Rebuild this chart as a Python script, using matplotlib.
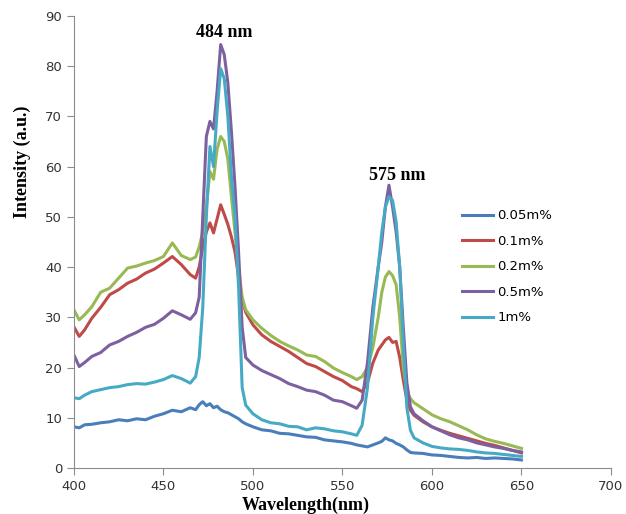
import numpy as np
import matplotlib
matplotlib.use("Agg")
from matplotlib import pyplot as plt

# wavelength grid (nm)
wl = [400, 403, 406, 410, 415, 420, 425, 430, 435, 440,
      445, 450, 455, 460, 465, 468, 470, 472, 474, 476,
      478, 480, 482, 484, 486, 488, 490, 492, 494, 496,
      500, 505, 510, 515, 520, 525, 530, 535, 540, 545,
      550, 555, 558, 561, 564, 567, 570, 572, 574, 576,
      578, 580, 582, 584, 586, 588, 590, 595, 600, 605,
      610, 615, 620, 625, 630, 635, 640, 645, 650]

# intensities (a.u.)
i_005 = [8.2, 8.0, 8.6, 8.7, 9.0, 9.2, 9.6, 9.4, 9.8, 9.6,
         10.3, 10.8, 11.5, 11.2, 12.0, 11.6, 12.6, 13.2, 12.4, 12.8,
         12.0, 12.3, 11.6, 11.2, 11.0, 10.6, 10.2, 9.8, 9.2, 8.8,
         8.2, 7.6, 7.4, 6.9, 6.8, 6.5, 6.2, 6.1, 5.6, 5.4,
         5.2, 4.9, 4.6, 4.4, 4.2, 4.6, 5.0, 5.3, 6.0, 5.6,
         5.4, 4.9, 4.6, 4.2, 3.6, 3.1, 3.0, 2.9, 2.6, 2.5,
         2.3, 2.1, 2.0, 2.1, 1.9, 2.0, 1.9, 1.8, 1.6]

i_01 = [28.1, 26.2, 27.5, 29.8, 32.0, 34.5, 35.5, 36.8, 37.6, 38.8,
        39.6, 40.8, 42.1, 40.5, 38.5, 37.8, 40.0, 44.0, 47.0, 48.8,
        46.8, 49.6, 52.4, 50.5, 48.5, 46.0, 43.0, 38.0, 33.5, 31.0,
        28.5, 26.5, 25.2, 24.2, 23.2, 22.0, 20.8, 20.2, 19.2, 18.2,
        17.4, 16.2, 15.8, 15.2, 17.0, 20.9, 23.5, 24.5, 25.5, 26.0,
        25.0, 25.2, 22.0, 17.5, 13.5, 11.5, 10.5, 9.2, 8.2, 7.5,
        6.9, 6.4, 5.9, 5.4, 4.9, 4.5, 4.0, 3.5, 3.0]

i_02 = [31.5, 29.5, 30.5, 32.1, 35.0, 35.8, 37.8, 39.8, 40.2, 40.8,
        41.3, 42.1, 44.8, 42.3, 41.5, 42.0, 44.0, 47.0, 52.0, 59.0,
        57.5, 63.5, 66.0, 65.0, 61.5, 54.0, 47.0, 40.0, 34.0, 31.5,
        29.5, 27.8, 26.4, 25.2, 24.3, 23.5, 22.5, 22.2, 21.2, 19.9,
        19.0, 18.2, 17.6, 18.2, 20.0, 24.0, 30.0, 35.0, 38.0, 39.1,
        38.3, 36.5, 30.0, 20.0, 15.0, 13.8, 13.0, 11.8, 10.6, 9.8,
        9.2, 8.4, 7.6, 6.6, 5.8, 5.3, 4.9, 4.4, 3.9]

i_05 = [22.5, 20.2, 21.0, 22.2, 23.0, 24.5, 25.2, 26.2, 27.0, 28.0,
        28.6, 29.8, 31.3, 30.5, 29.6, 30.9, 34.0, 50.0, 66.0, 69.0,
        67.5, 75.0, 84.3, 82.3, 76.7, 67.0, 56.0, 43.0, 28.0, 22.0,
        20.5, 19.4, 18.6, 17.8, 16.8, 16.2, 15.5, 15.2, 14.5, 13.5,
        13.2, 12.4, 11.9, 13.5, 21.0, 32.0, 40.0, 45.0, 52.0, 56.3,
        52.0, 47.0, 40.0, 28.0, 17.0, 12.2, 10.8, 9.4, 8.2, 7.4,
        6.6, 6.0, 5.6, 5.0, 4.6, 4.2, 3.9, 3.5, 3.2]

i_1 = [14.0, 13.8, 14.5, 15.2, 15.6, 16.0, 16.2, 16.6, 16.8, 16.7,
       17.1, 17.6, 18.4, 17.8, 16.9, 18.2, 22.0, 32.0, 50.0, 64.0,
       60.0, 71.0, 79.5, 77.5, 70.0, 58.0, 50.0, 36.0, 16.0, 12.5,
       10.8, 9.6, 9.0, 8.8, 8.3, 8.2, 7.6, 8.0, 7.8, 7.4,
       7.2, 6.8, 6.5, 8.5, 16.0, 30.0, 40.0, 47.0, 52.0, 54.0,
       53.3, 49.0, 40.0, 25.0, 12.0, 7.5, 6.0, 5.0, 4.3, 4.0,
       3.8, 3.7, 3.5, 3.2, 3.0, 2.9, 2.7, 2.5, 2.3]

labels = ["0.05m%", "0.1m%", "0.2m%", "0.5m%", "1m%"]
colors = ["#4A7EBB", "#BE4B48", "#98B954", "#7D60A0", "#46AAC5"]

fig = plt.figure(figsize=(6.26, 5.14), dpi=100)
ax = fig.add_axes([0.118, 0.0895, 0.858, 0.8795])

for y, lab, c in zip([i_005, i_01, i_02, i_05, i_1], labels, colors):
    ax.plot(wl, y, color=c, lw=2.2, label=lab)

ax.set_xlim(400, 700)
ax.set_ylim(0, 90)
ax.set_xticks(np.arange(400, 701, 50))
ax.set_yticks(np.arange(0, 91, 10))
for s in ["top", "right"]:
    ax.spines[s].set_visible(False)
for s in ["left", "bottom"]:
    ax.spines[s].set_color("#8c8c8c")
ax.tick_params(direction="out", length=5, color="#8c8c8c",
               labelsize=9.5, labelcolor="#333333")

serif = ["Liberation Serif", "DejaVu Serif"]
ax.set_xlabel("Wavelength(nm)", fontsize=13, fontweight="bold",
              family=serif, va="center")
ax.xaxis.set_label_coords(0.432, -0.082)
ax.set_ylabel("Intensity (a.u.)", fontsize=13, fontweight="bold",
              family=serif, va="center")
ax.yaxis.set_label_coords(-0.095, 0.677)

ax.text(483.8, 86.7, "484 nm", ha="center", va="center", fontsize=13,
        fontweight="bold", family=serif)
ax.text(580.4, 58.2, "575 nm", ha="center", va="center", fontsize=13,
        fontweight="bold", family=serif)

ax.legend(loc="center left", bbox_to_anchor=(0.71, 0.445), frameon=False,
          fontsize=9.5, borderpad=0, handlelength=2.4, handletextpad=0.3,
          labelspacing=0.95)

fig.savefig("out.png", dpi=100)
